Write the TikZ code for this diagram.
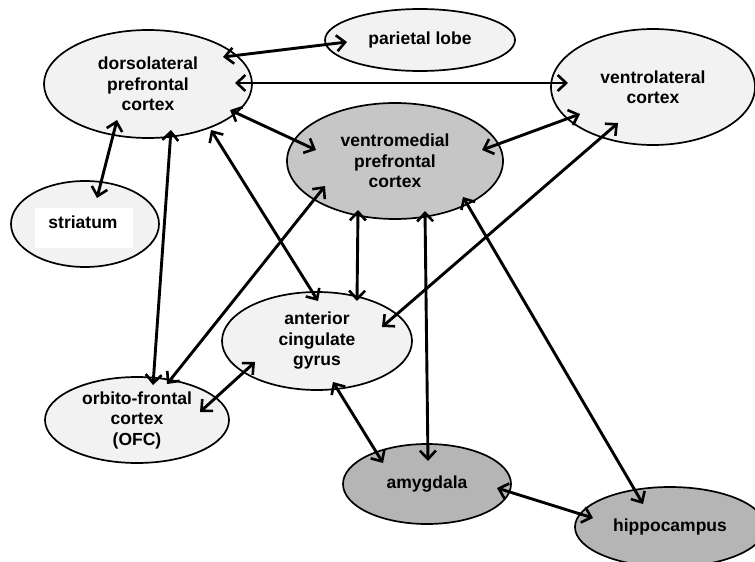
\documentclass[tikz,border=0pt]{standalone}
\usepackage{fontspec}
\setmainfont{Liberation Sans}
\usetikzlibrary{shapes.geometric,arrows.meta,calc}
\definecolor{lightfill}{HTML}{F2F2F2}
\definecolor{midfill}{HTML}{C6C6C6}
\definecolor{darkfill}{HTML}{B5B5B5}
\begin{document}
\begin{tikzpicture}[x=1pt,y=-1pt,
  region/.style={ellipse, draw=black, line width=1.7pt, inner sep=0pt, align=center,
    font=\fontsize{17.5}{20.5}\selectfont\bfseries},
  light/.style={region, fill=lightfill},
  mid/.style={region, fill=midfill},
  dark/.style={region, fill=darkfill},
  link/.style={line width=2.9pt, {Straight Barb[length=8.5pt,width=16pt,line width=2.6pt]}-{Straight Barb[length=8.5pt,width=16pt,line width=2.6pt]}},
  lbl/.style={font=\fontsize{17.5}{20.5}\selectfont\bfseries, inner sep=0pt}
]
\fill[white] (0,0) rectangle (755,562);
\useasboundingbox (0,0) rectangle (755,562);

\node[light, minimum width=208pt, minimum height=108pt] (dl) at (148,84) {dorsolateral\\prefrontal\\cortex};
\node[light, minimum width=190pt, minimum height=62pt] (pl) at (420,40) {parietal lobe};
\node[light, minimum width=204pt, minimum height=116pt] (vl) at (653,87) {ventrolateral\\cortex};
\node[mid, minimum width=216pt, minimum height=116pt] (vm) at (395,161) {ventromedial\\prefrontal\\cortex};
\node[light, minimum width=148pt, minimum height=86pt] (st) at (85,224) {};
\fill[white] ($(st)+(-50,-16)$) rectangle ($(st)+(48,24)$);
\node[lbl] (stl) at (83,222) {striatum};
\node[light, minimum width=190pt, minimum height=98pt] (acg) at (317,341) {anterior\\cingulate\\gyrus};
\node[light, minimum width=184pt, minimum height=86pt] (ofc) at (137,420) {orbito-frontal\\cortex\\(OFC)};
\node[dark, minimum width=168pt, minimum height=80pt] (am) at (427,484) {amygdala};
\node[dark, minimum width=190pt, minimum height=80pt] (hc) at (670,527) {hippocampus};

\draw[link] ($(dl)+(75,-27)$) -- ($(pl)+(-73,2)$);
\draw[link] ($(dl)+(87,-1)$) -- ($(vl)+(-85,-4)$);
\draw[link] ($(dl)+(82,26)$) -- ($(vm)+(-79,-11)$);
\draw[link] ($(dl)+(-31,36)$) -- ($(st)+(12,-26)$);
\draw[link] ($(dl)+(23,46)$) -- ($(ofc)+(16,-35)$);
\draw[link] ($(dl)+(63,46)$) -- ($(acg)+(1,-40)$);
\draw[link] ($(vm)+(-70,25)$) -- ($(ofc)+(30,-36)$);
\draw[link] ($(vm)+(-37,49)$) -- ($(acg)+(40,-40)$);
\draw[link] ($(vm)+(30,50)$) -- ($(am)+(1,-23)$);
\draw[link] ($(vm)+(68,36)$) -- ($(hc)+(-27,-23)$);
\draw[link] ($(vm)+(87,-11)$) -- ($(vl)+(-73,27)$);
\draw[link] ($(vl)+(-35,36)$) -- ($(acg)+(65,-14)$);
\draw[link] ($(acg)+(-62,21)$) -- ($(ofc)+(63,-8)$);
\draw[link] ($(acg)+(16,41)$) -- ($(am)+(-44,-21)$);
\draw[link] ($(am)+(70,4)$) -- ($(hc)+(-77,-9)$);
\end{tikzpicture}
\end{document}
